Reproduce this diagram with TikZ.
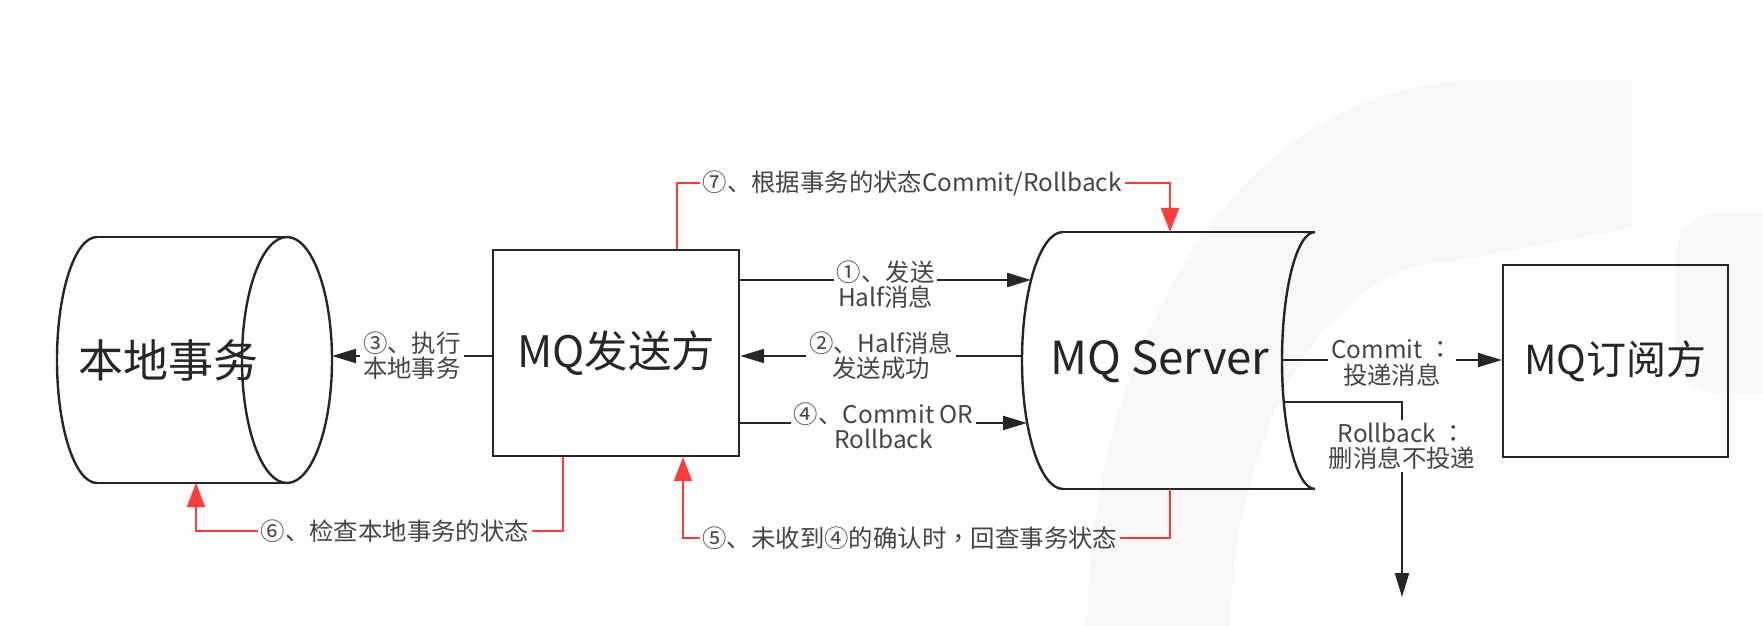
\documentclass[tikz,border=0pt]{standalone}
\usepackage{fontspec}
\setmainfont{Noto Sans CJK SC}
\newfontfamily\tcfont{Noto Sans CJK TC}
\usetikzlibrary{arrows.meta,calc}
\definecolor{redc}{HTML}{FF3B3B}
\definecolor{linec}{HTML}{262626}
\definecolor{txtc}{HTML}{454545}
\begin{document}
\begin{tikzpicture}[x=0.5pt,y=0.5pt,
 shapeline/.style={draw=linec,line width=1.2pt},
 bigtext/.style={text=linec,font=\fontsize{#1}{24}\selectfont},
 bigtext/.default=21,
 box/.style={shapeline,rectangle,inner sep=0pt},
 conn/.style={draw=linec,line width=1pt,-{Triangle[length=12pt,width=7pt]}},
 redconn/.style={draw=redc,line width=1pt,-{Triangle[length=12pt,width=9pt]}},
 lab/.style={fill=white,text=txtc,font=\fontsize{12.2}{12.6}\selectfont,align=center,inner sep=1.5pt},
 wmark/.style={black,fill opacity=0.028},
]
\useasboundingbox[fill=white] (0,0) rectangle (1763,-626);

% local transaction cylinder
\draw[shapeline] (97,-237) -- (287,-237) (97,-483) -- (287,-483);
\draw[shapeline] (97,-237) arc[start angle=90,end angle=270,x radius=40,y radius=123];
\draw[shapeline] (287,-360) ellipse[x radius=45,y radius=123];
\node[bigtext=22.5] (loc) at (168,-360) {本地事务};
\coordinate (locE) at (332,-356);
\coordinate (locB) at (196,-483);

% sender
\node[box,bigtext=21.7,minimum width=123pt,minimum height=103pt] (snd) at (616,-353) {MQ发送方};

% server
\draw[shapeline] (1063,-232) -- (1315,-232) (1063,-489) -- (1315,-489);
\draw[shapeline] (1063,-232) arc[start angle=90,end angle=270,x radius=41,y radius=128.5];
\draw[shapeline] (1315,-232) arc[start angle=90,end angle=270,x radius=33,y radius=128.5];
\node[bigtext=22.8] (srv) at (1160,-362) {MQ Server};
\coordinate (srvL1) at (1031,-280);
\coordinate (srvL2) at (1022,-356);
\coordinate (srvL4) at (1027,-423);
\coordinate (srvT) at (1170,-232);
\coordinate (srvB) at (1170,-489);
\coordinate (srvR1) at (1282,-360);
\coordinate (srvR2) at (1284,-402);

% subscriber
\node[box,bigtext=20,minimum width=112.5pt,minimum height=96pt] (sub) at (1615.5,-361) {MQ订阅方};

% black connectors
\draw[conn] (snd.east |- srvL1) -- node[lab,yshift=-2.5pt]{①、发送\\Half消息} (srvL1);
\draw[conn] (srvL2) -- node[lab]{②、Half消息\\发送成功} (snd.east |- srvL2);
\draw[conn] (snd.west |- locE) -- node[lab]{③、执行\\本地事务} (locE);
\draw[conn] (snd.east |- srvL4) -- node[lab,yshift=-1.5pt]{④、Commit OR\\Rollback} (srvL4);
\draw[conn] (srvR1) -- node[lab,yshift=-1.5pt]{Commit {\tcfont ：}\\投递消息} (sub.west |- srvR1);
\coordinate (rbEnd) at (1402,-597);
\draw[conn] (srvR2) -| node[lab,pos=0.613]{Rollback {\tcfont ：}\\删消息不投递} (rbEnd);

% red connectors
\coordinate (r7a) at (677,-183);
\draw[redconn] (snd.north -| r7a) -- (r7a) -- node[lab,pos=0.477]{⑦、根据事务的状态Commit/Rollback} (srvT |- r7a) -- (srvT);
\coordinate (r5) at (683,-538);
\draw[redconn] (srvB) -- (srvB |- r5) -- node[lab,pos=0.534]{⑤、未收到④的确认时{\tcfont ，}回查事务状态} (r5) -- (snd.south -| r5);
\coordinate (r6s) at (563,-531);
\draw[redconn] (snd.south -| r6s) -- (r6s) -- node[lab,pos=0.458]{⑥、检查本地事务的状态} (r6s -| locB) -- (locB);

% faint background watermark (drawn over, very transparent)
\fill[wmark] (1087,-640) .. controls (1087,-330) and (1250,-80) .. (1480,-80) -- (1632,-80) -- (1632,-228) -- (1450,-262) .. controls (1329,-262) and (1230,-431) .. (1230,-640) -- cycle;
\fill[wmark,rounded corners=20pt] (1820,-213) -- (1676,-213) -- (1676,-393) -- (1820,-393) -- cycle;
\end{tikzpicture}
\end{document}
